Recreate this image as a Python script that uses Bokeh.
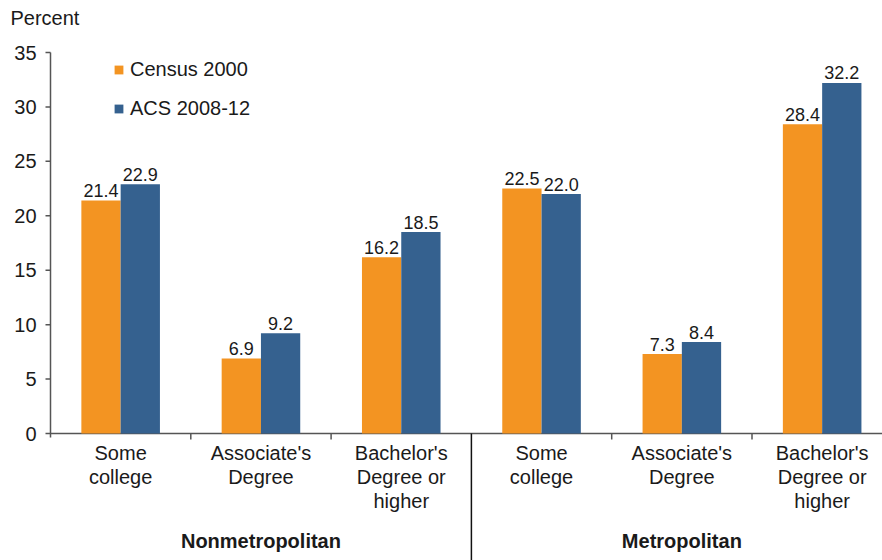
from bokeh.plotting import figure
from bokeh.models import ColumnDataSource, Range1d, Legend, LegendItem
from bokeh.core.properties import value
from bokeh.embed import file_html
from bokeh.resources import INLINE

# --- data -------------------------------------------------------------
categories = ["Some\ncollege", "Associate's\nDegree", "Bachelor's\nDegree or\nhigher",
              "Some\ncollege", "Associate's\nDegree", "Bachelor's\nDegree or\nhigher"]
groups = ["Nonmetropolitan", "Metropolitan"]
census_2000 = [21.4, 6.9, 16.2, 22.5, 7.3, 28.4]
acs_2008_12 = [22.9, 9.2, 18.5, 22.0, 8.4, 32.2]
y_ticks = [0, 5, 10, 15, 20, 25, 30, 35]

ORANGE = "#F39422"
BLUE = "#35618F"
FONT = value("Liberation Sans")
TEXT = "#1a1a1a"
AXIS = "#555555"
FS = "20px"

# --- layout constants (pixels) -----------------------------------------
W, H = 882, 560
LEFT = 50              # pixel column of the value axis
TOP_PX = 52            # pixel row of the top tick (35)
ZERO_PX = 433          # pixel row of the zero line
PX_PER_UNIT = (ZERO_PX - TOP_PX) / 35.0
CAT_PX = 140.3         # width of one category slot

x_start = -LEFT / CAT_PX
x_end = (W - LEFT) / CAT_PX
y_start = -(H - ZERO_PX) / PX_PER_UNIT
y_end = 35 + TOP_PX / PX_PER_UNIT

def dx(px):
    return px / CAT_PX

def dy(px):
    return px / PX_PER_UNIT

p = figure(width=W, height=H, output_backend="svg", toolbar_location=None,
           x_range=Range1d(x_start, x_end), y_range=Range1d(y_start, y_end),
           min_border=0)
p.outline_line_color = None
p.grid.visible = False
p.axis.visible = False
p.background_fill_color = "white"
p.border_fill_color = "white"

# value axis: line, ticks, labels
p.segment(x0=[0], y0=[-dy(4)], x1=[0], y1=[35], line_color=AXIS, line_width=1.5)
p.segment(x0=[-dx(5)] * len(y_ticks), y0=y_ticks, x1=[0] * len(y_ticks), y1=y_ticks,
          line_color=AXIS, line_width=1.5)
p.text(x=[-dx(14)] * len(y_ticks), y=y_ticks, text=[str(t) for t in y_ticks],
       text_font=FONT, text_font_size=FS, text_align="right",
       text_baseline="middle", text_color=TEXT)
p.text(x=[-dx(40)], y=[35 + dy(52 - 17)], text=["Percent"], text_font=FONT,
       text_font_size=FS, text_align="left", text_baseline="alphabetic",
       text_color=TEXT)

# category axis line and boundary ticks
p.segment(x0=[0], y0=[0], x1=[x_end], y1=[0], line_color=AXIS, line_width=1.5)
tick_x = [1, 2, 4, 5]
p.segment(x0=tick_x, y0=[0] * 4, x1=tick_x, y1=[-dy(6)] * 4,
          line_color=AXIS, line_width=1.5)
# group separator
p.segment(x0=[3], y0=[0], x1=[3], y1=[y_start], line_color="#111111", line_width=1.5)

# bars
centers = [i + 0.5 for i in range(len(categories))]
BAR_W = 0.28
lift = dy(10)
src = ColumnDataSource(dict(
    xc=[c - BAR_W / 2 for c in centers], xa=[c + BAR_W / 2 for c in centers],
    census=census_2000, acs=acs_2008_12,
    yc=[v + lift for v in census_2000], ya=[v + lift for v in acs_2008_12],
    lc=[f"{v:.1f}" for v in census_2000], la=[f"{v:.1f}" for v in acs_2008_12]))
r1 = p.vbar(x="xc", top="census", width=BAR_W, bottom=0, source=src,
            fill_color=ORANGE, line_color=None)
r2 = p.vbar(x="xa", top="acs", width=BAR_W, bottom=0, source=src,
            fill_color=BLUE, line_color=None)

# value labels
p.text(x="xc", y="yc", text="lc", source=src,
       text_font=FONT, text_font_size="18px", text_align="center",
       text_baseline="alphabetic", text_color=TEXT)
p.text(x="xa", y="ya", text="la", source=src,
       text_font=FONT, text_font_size="18px", text_align="center",
       text_baseline="alphabetic", text_color=TEXT)

# category labels, one glyph per line
lx, ly, lt = [], [], []
for c, name in zip(centers, categories):
    for k, line in enumerate(name.split("\n")):
        lx.append(c)
        ly.append(-dy(19 + 24 * k))
        lt.append(line)
p.text(x=lx, y=ly, text=lt, text_font=FONT, text_font_size=FS,
       text_align="center", text_baseline="alphabetic", text_color=TEXT)

# group labels
p.text(x=[1.5, 4.5], y=[-dy(107)] * 2, text=groups, text_font=FONT,
       text_font_size=FS, text_font_style="bold", text_align="center",
       text_baseline="alphabetic", text_color=TEXT)

legend = Legend(items=[LegendItem(label="Census 2000", renderers=[r1]),
                       LegendItem(label="ACS 2008-12", renderers=[r2])],
                location=(LEFT + 63, H - 120), padding=0, margin=0, spacing=16,
                glyph_width=11, glyph_height=11, label_standoff=6,
                label_text_font="Liberation Sans", label_text_font_size=FS,
                label_text_color=TEXT, border_line_color=None,
                background_fill_alpha=0)
p.add_layout(legend)

open("out.html", "w").write(file_html(p, INLINE))
